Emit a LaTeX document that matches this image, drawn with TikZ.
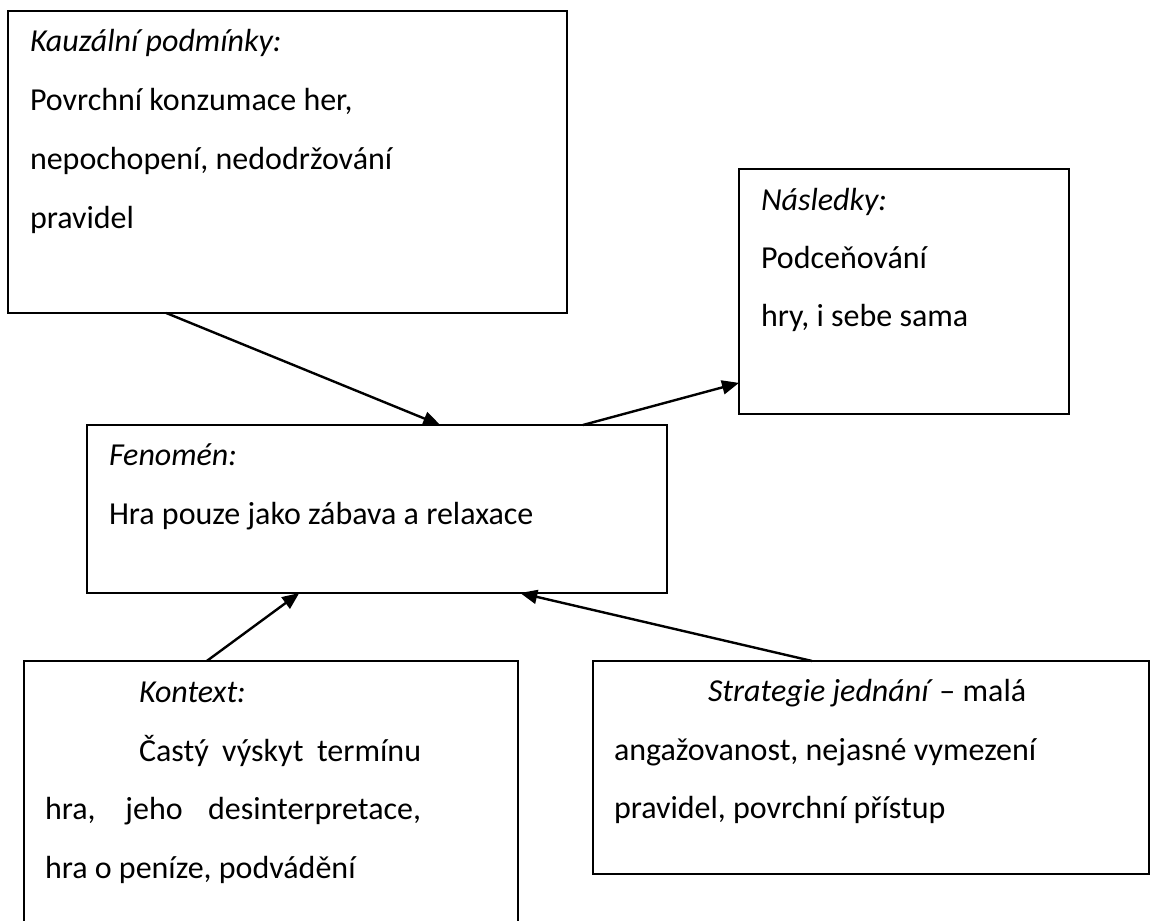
\documentclass[tikz,border=0pt]{standalone}
\usepackage{fontspec}
\setmainfont{Carlito}
\usetikzlibrary{arrows.meta,calc}
\begin{document}
\begin{tikzpicture}[x=1pt,y=-1pt,
  box/.style={draw=black, line width=2.2pt, rectangle, inner sep=0pt, outer sep=0pt, anchor=north west},
  txt/.style={anchor=base west, inner sep=0pt, outer sep=0pt, font=\fontsize{32}{38}\selectfont},
  conn/.style={line width=2.4pt, -{Triangle[length=17pt,width=14pt]}}]
\path[use as bounding box] (0,0) rectangle (1155,920);
\clip (0,0) rectangle (1155,920);
% boxes
\node[box, minimum width=559pt, minimum height=302pt] (k) at (8,11) {};
\node[box, minimum width=330pt, minimum height=245pt] (n) at (739,169) {};
\node[box, minimum width=580pt, minimum height=168pt] (f) at (87,425) {};
\node[box, minimum width=494pt, minimum height=300pt] (c) at (24,661) {};
\node[box, minimum width=556pt, minimum height=213pt] (s) at (593,661) {};
% texts
\node[txt] (k1) at (30,52) {\textit{Kauzální podmínky:}};
\node[txt] (k2) at (30,111) {Povrchní konzumace her,};
\node[txt] (k3) at (30,169) {nepochopení, nedodržování};
\node[txt] (k4) at (30,228) {pravidel};
\node[txt] (n1) at (761,210) {\textit{Následky:}};
\node[txt] (n2) at (761,268) {Podceňování};
\node[txt] (n3) at (761,326) {hry, i sebe sama};
\node[txt] (f1) at (109,465) {\textit{Fenomén:}};
\node[txt] (f2) at (109,524) {Hra pouze jako zábava a relaxace};
\node[txt] (c1) at (139,702) {\textit{Kontext:}};
\node[txt] (c2) at (139,761) {\makebox[282pt][s]{Častý výskyt termínu}};
\node[txt] (c3) at (45,819) {\makebox[376pt][s]{hra, jeho desinterpretace,}};
\node[txt] (c4) at (45,878) {hra o peníze, podvádění};
\node[txt] (s1) at (708,701) {\textit{Strategie jednání}\hspace{0.2em}– malá};
\node[txt] (s2) at (614,760) {angažovanost, nejasné vymezení};
\node[txt] (s3) at (614,818) {pravidel, povrchní přístup};
% connectors
\draw[conn] ($(k.south west)!0.283!(k.south east)$) -- ($(f.north west)!0.609!(f.north east)$);
\draw[conn] ($(f.north west)!0.855!(f.north east)$) -- ($(n.north west)!0.873!(n.south west)$);
\draw[conn] ($(c.north west)!0.370!(c.north east)$) -- ($(f.south west)!0.366!(f.south east)$);
\draw[conn] ($(s.north west)!0.394!(s.north east)$) -- ($(f.south west)!0.747!(f.south east)$);
\end{tikzpicture}
\end{document}
